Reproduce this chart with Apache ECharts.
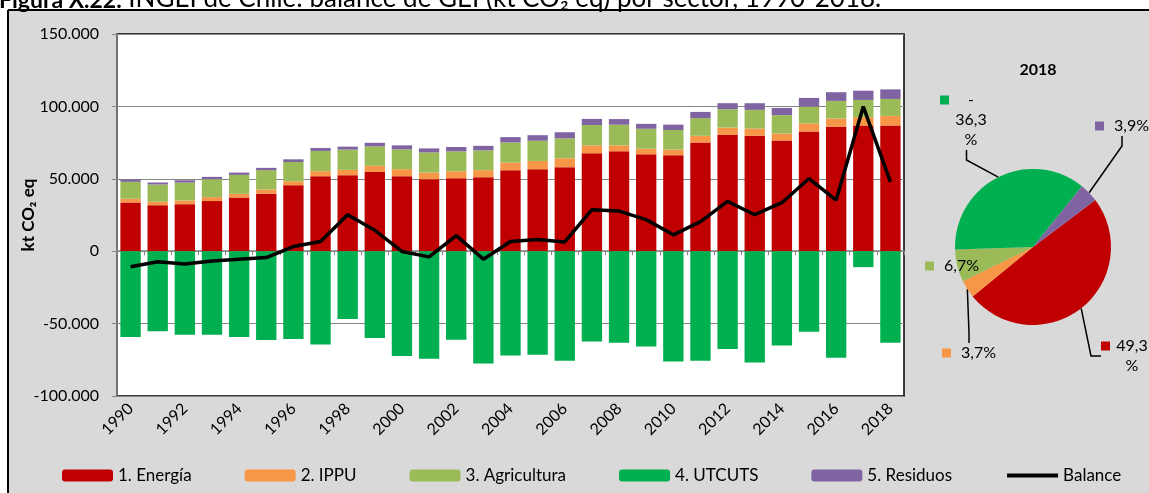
<!DOCTYPE html>
<html>
<head>
<meta charset="utf-8">
<script src="https://cdn.jsdelivr.net/npm/echarts@6/dist/echarts.min.js"></script>
<style>
html, body { margin: 0; padding: 0; background: #fff; }
#main { width: 1149px; height: 493px; }
</style>
</head>
<body>
<div id="main"></div>
<script>
// datos (kt CO2 eq)
var years = ['1990','1991','1992','1993','1994','1995','1996','1997','1998','1999','2000','2001','2002','2003','2004',
  '2005','2006','2007','2008','2009','2010','2011','2012','2013','2014','2015','2016','2017','2018'];
var energia = [33700, 31800, 32500, 34600, 37100, 39700, 45600, 51800, 52500, 54800, 51800, 49700, 50400, 51100, 55900,
  56600, 58000, 67600, 69000, 66900, 66300, 75100, 80400, 79700, 76500, 82700, 85900, 86800, 86800];
var ippu = [2500, 2350, 2550, 2750, 2550, 2950, 2700, 3450, 3650, 4150, 4850, 4600, 4800, 4850, 5250,
  5700, 6150, 5500, 4100, 3900, 3850, 4600, 5000, 5050, 4800, 5500, 5700, 5750, 6650];
var agricultura = [11700, 11900, 12350, 12400, 13050, 13300, 13300, 14000, 14000, 13500, 13700, 13950, 13750, 13700, 13950,
  14000, 13800, 14050, 14250, 13750, 13550, 12200, 12650, 12850, 12650, 11650, 12200, 11900, 11700];
var utcuts = [-59300, -55200, -57700, -57700, -59300, -61400, -60700, -64400, -46900, -60000, -72400, -74200, -61200, -77500, -72000,
  -71500, -75600, -62300, -63200, -65800, -76100, -75600, -67600, -76800, -65100, -55700, -73600, -11000, -63200];
var residuos = [1600, 1400, 1600, 1600, 1600, 1600, 1850, 2050, 2050, 2400, 2750, 2750, 3000, 3100, 3700,
  3800, 4200, 4200, 3900, 3400, 3700, 4300, 4150, 4600, 5000, 6000, 6000, 6400, 6600];
var balance = [-10800, -7300, -8900, -6700, -5500, -4400, 3200, 6700, 25200, 14400, -200, -3900, 10800, -5500, 6700,
  8000, 6400, 28700, 27700, 21800, 11300, 20400, 34400, 25200, 33500, 50200, 35300, 99900, 47900];

// torta 2018 (% del total)
var pieNames = ['1. Energía', '2. IPPU', '3. Agricultura', '4. UTCUTS', '5. Residuos'];
var pieShares = [49.3, 3.7, 6.7, -36.3, 3.9];

var colors = ['#c00000', '#f79646', '#9bbb59', '#00b050', '#8064a2'];
var font = 'Lato';

// posicion de las etiquetas de la torta (esquina sup. izq.)
var pieLabelPos = [[1101, 336], [942, 343], [925, 256], [940, 90], [1095, 116]];

var chart = echarts.init(document.getElementById('main'));

function fmtMiles(v) {
  var s = String(Math.abs(v)).replace(/\B(?=(\d{3})+(?!\d))/g, '.');
  return v < 0 ? '-' + s : s;
}

function pieLabel(p) {
  var v = pieShares[p.dataIndex];
  var num = String(Math.abs(v)).replace('.', ',');
  if (v < 0) return '{sq| }{c|-}\n{e| }{c|' + num + '}\n{e| }{c|%}';
  if (Math.abs(v) >= 10) return '{sq| }{c|' + num + '}\n{e| }{c|%}';
  return '{sq| }{s|' + num + '%}';
}

var pieData = pieNames.map(function (n, i) {
  return {
    name: n,
    value: Math.abs(pieShares[i]),
    itemStyle: { color: colors[i] },
    label: { rich: { sq: { backgroundColor: colors[i] } } },
    labelLine: { show: i !== 2 }
  };
});

function barSerie(name, data, color) {
  return {
    name: name,
    type: 'bar',
    stack: 'total',
    barCategoryGap: '25%',
    data: data,
    itemStyle: { color: color }
  };
}

var option = {
  backgroundColor: '#d9d9d9',
  textStyle: { fontFamily: font },
  animation: false,
  graphic: [
    { type: 'rect', shape: { x: 0, y: 0, width: 1149, height: 10 }, style: { fill: '#fff' } },
    { type: 'rect', shape: { x: 0, y: 0, width: 8, height: 493 }, style: { fill: '#fff' } },
    { type: 'line', shape: { x1: 8, y1: 10, x2: 1149, y2: 10 }, style: { stroke: '#000', lineWidth: 2 } },
    { type: 'line', shape: { x1: 8, y1: 10, x2: 8, y2: 493 }, style: { stroke: '#000', lineWidth: 2 } },
    {
      type: 'text', x: -1, y: -1,
      style: {
        text: '{b|Figura X.22.}{r| INGEI de Chile: balance de GEI (kt CO₂ eq) por sector, 1990-2018.}',
        fill: '#000', verticalAlign: 'middle',
        rich: {
          b: { fontWeight: 'bold', fontSize: 23, fontFamily: font, verticalAlign: 'bottom' },
          r: { fontSize: 26, fontFamily: font, verticalAlign: 'bottom' }
        }
      }
    }
  ],
  title: {
    text: '2018', left: 1033, top: 57, textAlign: 'center',
    textStyle: { fontSize: 16, fontWeight: 'bold', color: '#000', fontFamily: font }
  },
  legend: {
    data: ['1. Energía', '2. IPPU', '3. Agricultura', '4. UTCUTS', '5. Residuos',
      { name: 'Balance', itemStyle: { opacity: 0 }, lineStyle: { width: 4, color: '#000' } }],
    left: 57, top: 462,
    itemWidth: 51, itemHeight: 12, itemGap: 53,
    textStyle: { fontSize: 17, color: '#000', fontFamily: font }
  },
  grid: {
    left: 117, right: 245, top: 34, bottom: 97,
    show: true, backgroundColor: '#fff', borderColor: '#000', borderWidth: 1.5
  },
  xAxis: [
    {
      type: 'category', data: years, position: 'bottom',
      axisLine: { show: false, onZero: false },
      axisTick: { show: false },
      axisLabel: { interval: 1, rotate: 45, fontSize: 16, color: '#000', margin: 10 }
    },
    {
      type: 'category', data: years, position: 'bottom',
      axisLine: { show: true, onZero: true, lineStyle: { color: '#868686', width: 1.5 } },
      axisTick: { show: true, interval: 0, length: 4, lineStyle: { color: '#868686' } },
      axisLabel: { show: false }
    }
  ],
  yAxis: {
    type: 'value', min: -100000, max: 150000, interval: 50000,
    name: 'kt CO₂ eq', nameLocation: 'middle', nameGap: 80, nameMoveOverlap: false,
    nameTextStyle: { fontSize: 17, fontWeight: 'bold', color: '#000' },
    axisLine: { show: true, lineStyle: { color: '#868686', width: 1.5 } },
    axisTick: { show: true, length: 5, lineStyle: { color: '#868686' } },
    axisLabel: { fontSize: 16, color: '#000', margin: 18, formatter: fmtMiles },
    splitLine: { lineStyle: { color: '#868686', width: 1.2 } }
  },
  series: [
    barSerie('1. Energía', energia, colors[0]),
    barSerie('2. IPPU', ippu, colors[1]),
    barSerie('3. Agricultura', agricultura, colors[2]),
    barSerie('4. UTCUTS', utcuts, colors[3]),
    barSerie('5. Residuos', residuos, colors[4]),
    {
      name: 'Balance',
      type: 'line',
      data: balance,
      symbol: 'none',
      z: 5,
      itemStyle: { color: '#000' },
      lineStyle: { color: '#000', width: 3.5 }
    },
    {
      name: '2018',
      type: 'pie',
      center: [1033, 247],
      radius: 78,
      startAngle: 37,
      clockwise: true,
      avoidLabelOverlap: false,
      data: pieData,
      label: {
        show: true,
        formatter: pieLabel,
        fontSize: 16,
        color: '#000',
        lineHeight: 20,
        rich: {
          sq: { width: 9, height: 9, verticalAlign: 'middle' },
          e: { width: 9, height: 9 },
          c: { width: 44, align: 'center', fontSize: 16, lineHeight: 20 },
          s: { padding: [0, 0, 0, 10], fontSize: 16, lineHeight: 20 }
        }
      },
      labelLine: { show: true, length: 10, length2: 10, lineStyle: { color: '#000', width: 1.5 } },
      labelLayout: function (p) {
        var pos = pieLabelPos[p.dataIndex];
        return { x: pos[0], y: pos[1], align: 'left', verticalAlign: 'top' };
      }
    }
  ]
};

chart.setOption(option);
</script>
</body>
</html>
